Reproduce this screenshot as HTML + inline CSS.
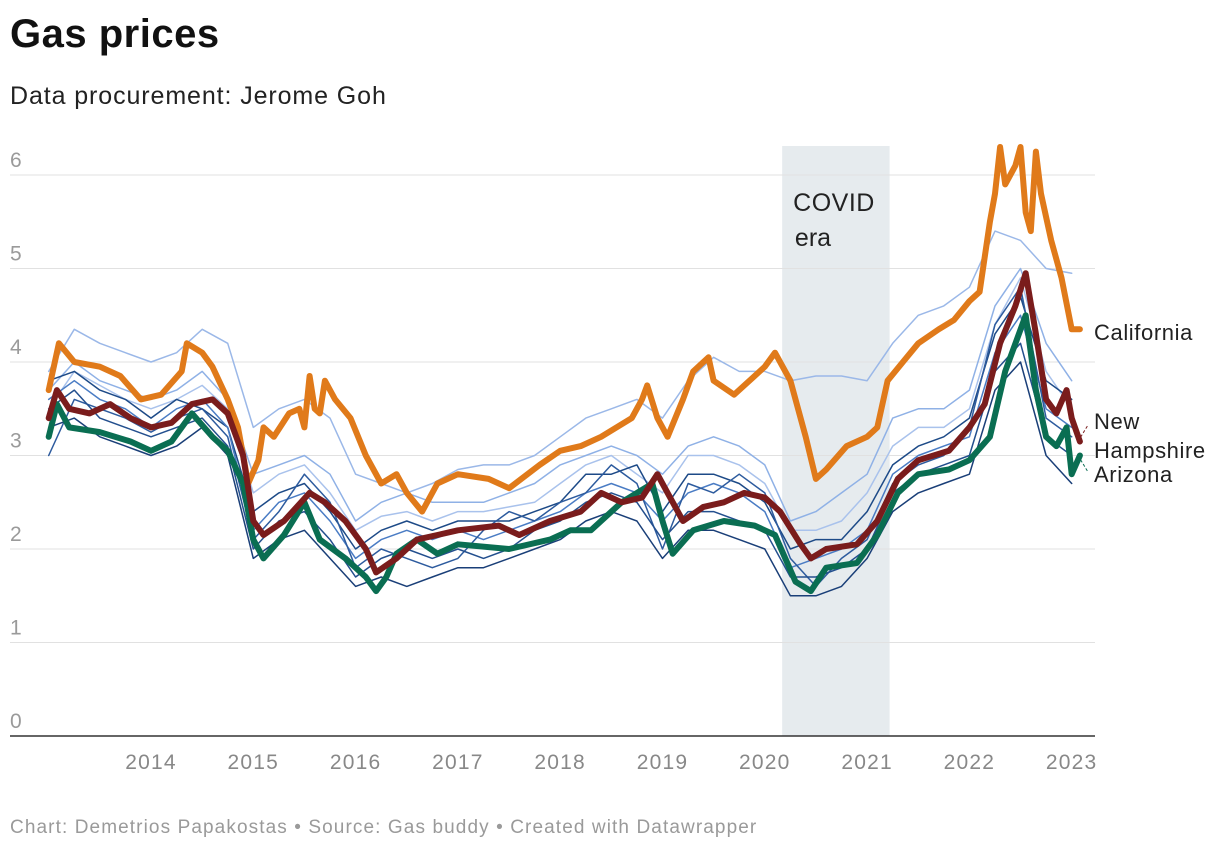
<!DOCTYPE html>
<html><head><meta charset="utf-8">
<style>
body{margin:0;background:#fff;font-family:"Liberation Sans",Arial,sans-serif;}
#wrap{position:relative;width:1220px;height:852px;overflow:hidden;}
.t{position:absolute;white-space:nowrap;}
</style></head>
<body>
<div id="wrap">
<div class="t" style="left:10px;top:12px;font-size:40px;font-weight:bold;color:#111;letter-spacing:0.5px;">Gas prices</div>
<div class="t" style="left:10px;top:82px;font-size:25px;color:#222;letter-spacing:0.9px;">Data procurement: Jerome Goh</div>
<svg id="chart" width="1220" height="852" style="position:absolute;left:0;top:0"></svg>
<div class="t" style="left:10px;top:817px;font-size:19px;color:#9a9a9a;letter-spacing:1.1px;">Chart: Demetrios Papakostas • Source: Gas buddy • Created with Datawrapper</div>
</div>
<script>
const yTicks=[0,1,2,3,4,5,6];
const xYears=[2014,2015,2016,2017,2018,2019,2020,2021,2022,2023];
const covidStart=2020.17, covidEnd=2021.22;
const caT=[2013.0,2013.1,2013.25,2013.5,2013.7,2013.9,2014.1,2014.3,2014.35,2014.5,2014.6,2014.75,2014.85,2014.95,2015.05,2015.1,2015.2,2015.35,2015.45,2015.5,2015.55,2015.6,2015.65,2015.7,2015.8,2015.95,2016.1,2016.25,2016.4,2016.5,2016.65,2016.8,2017.0,2017.3,2017.5,2017.8,2018.0,2018.2,2018.4,2018.7,2018.8,2018.85,2018.95,2019.05,2019.2,2019.3,2019.45,2019.5,2019.7,2019.85,2020.0,2020.1,2020.25,2020.4,2020.5,2020.6,2020.8,2021.0,2021.1,2021.2,2021.35,2021.5,2021.7,2021.85,2022.0,2022.1,2022.2,2022.25,2022.3,2022.35,2022.45,2022.5,2022.55,2022.6,2022.65,2022.7,2022.8,2022.9,2023.0,2023.08];
const caV=[3.7,4.2,4.0,3.95,3.85,3.6,3.65,3.9,4.2,4.1,3.95,3.6,3.3,2.7,2.95,3.3,3.2,3.45,3.5,3.3,3.85,3.5,3.45,3.8,3.6,3.4,3.0,2.7,2.8,2.6,2.4,2.7,2.8,2.75,2.65,2.9,3.05,3.1,3.2,3.4,3.6,3.75,3.4,3.2,3.6,3.9,4.05,3.8,3.65,3.8,3.95,4.1,3.8,3.2,2.75,2.85,3.1,3.2,3.3,3.8,4.0,4.2,4.35,4.45,4.65,4.75,5.5,5.8,6.3,5.9,6.1,6.3,5.6,5.4,6.25,5.8,5.3,4.9,4.35,4.35];
const nhT=[2013.0,2013.08,2013.2,2013.4,2013.6,2013.8,2014.0,2014.2,2014.4,2014.6,2014.75,2014.9,2015.0,2015.1,2015.3,2015.55,2015.7,2015.9,2016.1,2016.2,2016.4,2016.6,2016.8,2017.0,2017.4,2017.6,2017.9,2018.2,2018.4,2018.6,2018.8,2018.95,2019.05,2019.2,2019.4,2019.6,2019.8,2020.0,2020.15,2020.35,2020.45,2020.6,2020.9,2021.1,2021.3,2021.5,2021.8,2022.0,2022.15,2022.3,2022.45,2022.55,2022.65,2022.75,2022.85,2022.95,2023.0,2023.08];
const nhV=[3.4,3.7,3.5,3.45,3.55,3.4,3.3,3.35,3.55,3.6,3.45,3.0,2.3,2.15,2.3,2.6,2.5,2.3,2.0,1.75,1.9,2.1,2.15,2.2,2.25,2.15,2.3,2.4,2.6,2.5,2.55,2.8,2.6,2.3,2.45,2.5,2.6,2.55,2.4,2.05,1.9,2.0,2.05,2.3,2.75,2.95,3.05,3.3,3.55,4.2,4.6,4.95,4.3,3.6,3.45,3.7,3.4,3.15];
const azT=[2013.0,2013.08,2013.2,2013.5,2013.8,2014.0,2014.2,2014.4,2014.6,2014.75,2014.9,2015.0,2015.1,2015.3,2015.5,2015.65,2015.9,2016.1,2016.2,2016.3,2016.4,2016.6,2016.8,2017.0,2017.5,2017.9,2018.1,2018.3,2018.6,2018.9,2019.0,2019.1,2019.3,2019.6,2019.9,2020.1,2020.3,2020.45,2020.6,2020.9,2021.1,2021.3,2021.5,2021.8,2022.0,2022.2,2022.35,2022.55,2022.65,2022.75,2022.85,2022.95,2023.0,2023.08];
const azV=[3.2,3.55,3.3,3.25,3.15,3.05,3.15,3.45,3.2,3.05,2.7,2.1,1.9,2.15,2.5,2.1,1.9,1.7,1.55,1.7,1.95,2.1,1.95,2.05,2.0,2.1,2.2,2.2,2.5,2.7,2.3,1.95,2.2,2.3,2.25,2.15,1.65,1.55,1.8,1.85,2.15,2.6,2.8,2.85,2.95,3.2,3.9,4.5,3.7,3.2,3.1,3.3,2.8,3.0];
const bgStart=2013.0, bgStep=0.25;
const bg1=[3.9,4.35,4.2,4.1,4.0,4.1,4.35,4.2,3.3,3.5,3.6,3.4,2.8,2.7,2.6,2.7,2.85,2.9,2.9,3.0,3.2,3.4,3.5,3.6,3.4,3.8,4.05,3.9,3.9,3.8,3.85,3.85,3.8,4.2,4.5,4.6,4.8,5.4,5.3,5.0,4.95];
const bg2=[3.8,3.9,3.7,3.6,3.4,3.6,3.5,3.3,2.4,2.6,2.7,2.4,2.0,2.2,2.3,2.2,2.3,2.3,2.3,2.4,2.5,2.8,2.8,2.9,2.4,2.8,2.8,2.7,2.5,2.0,2.1,2.1,2.4,2.9,3.1,3.2,3.4,4.3,4.7,3.8,3.6];
const bg3=[3.5,3.7,3.4,3.3,3.2,3.3,3.4,3.1,2.0,2.3,2.4,2.1,1.7,1.9,2.0,1.9,2.0,1.9,2.0,2.2,2.3,2.5,2.6,2.5,2.1,2.4,2.4,2.3,2.2,1.7,1.7,1.8,2.0,2.6,2.8,2.9,3.0,3.9,4.2,3.2,3.0];
const bg4=[3.7,4.0,3.8,3.7,3.6,3.7,3.9,3.6,2.8,2.9,3.0,2.8,2.3,2.5,2.6,2.5,2.5,2.5,2.6,2.7,2.9,3.0,3.1,3.0,2.8,3.1,3.2,3.1,2.9,2.3,2.4,2.6,2.8,3.4,3.5,3.5,3.7,4.6,5.0,4.2,3.8];
const bg5=[3.3,3.4,3.2,3.1,3.0,3.1,3.3,3.0,1.9,2.1,2.2,1.9,1.6,1.7,1.6,1.7,1.8,1.8,1.9,2.0,2.1,2.3,2.4,2.3,1.9,2.2,2.2,2.1,2.0,1.5,1.5,1.6,1.9,2.4,2.6,2.7,2.8,3.7,4.0,3.0,2.7];
const bg6=[3.6,3.8,3.6,3.5,3.3,3.5,3.6,3.3,2.2,2.5,2.6,2.3,1.9,2.1,2.2,2.1,2.2,2.1,2.2,2.3,2.4,2.6,2.7,2.6,2.3,2.6,2.7,2.6,2.4,1.8,1.9,2.0,2.2,2.8,3.0,3.1,3.2,4.1,4.5,3.5,3.3];
const bg7=[3.0,3.6,3.5,3.4,3.25,3.4,3.5,3.2,2.1,2.4,2.8,2.5,1.8,2.0,1.9,1.8,1.9,2.2,2.4,2.3,2.5,2.6,2.9,2.7,2.0,2.7,2.6,2.8,2.6,1.9,1.6,1.9,2.1,2.7,2.9,3.0,3.3,4.4,4.8,3.4,3.2];
const bg8=[3.5,3.9,3.75,3.6,3.5,3.6,3.75,3.5,2.6,2.8,2.9,2.6,2.2,2.35,2.4,2.3,2.4,2.4,2.45,2.5,2.7,2.9,3.0,2.8,2.6,3.0,3.0,2.9,2.7,2.2,2.2,2.3,2.6,3.1,3.3,3.3,3.5,4.4,4.9,3.9,3.5];

const NS="http://www.w3.org/2000/svg";
const svg=document.getElementById('chart');
const X=t=>151+(t-2014)*102.3;
const Y=v=>736-v*93.5;
function mk(tag,attrs){const e=document.createElementNS(NS,tag);for(const k in attrs)e.setAttribute(k,attrs[k]);svg.appendChild(e);return e;}
let r=mk('rect',{x:X(covidStart),y:146,width:X(covidEnd)-X(covidStart),height:590,fill:'#e6ebee'});


yTicks.forEach(v=>{
  if(v>0){const g=mk('line',{x1:10,x2:1095,y1:Y(v),y2:Y(v),stroke:'#e1e1e1','stroke-width':1});
  
  }
  const tx=mk('text',{x:10,y:Y(v)-8,'font-size':21,fill:'#9a9a9a','letter-spacing':1});tx.textContent=v;
  
  
});
xYears.forEach(yr=>{
  const tx=mk('text',{x:X(yr),y:769,'font-size':21,fill:'#888','text-anchor':'middle','letter-spacing':1.2});tx.textContent=yr;
  
  
});
let ct=mk('text',{x:834,y:211,'font-size':25,fill:'#222','text-anchor':'middle','letter-spacing':0.5});ct.textContent='COVID';


let ct2=mk('text',{x:813,y:246,'font-size':25,fill:'#222','text-anchor':'middle'});ct2.textContent='era';


function line(ts,vs,color,w,name){
  const d=ts.map((t,i)=>(i?'L':'M')+X(t).toFixed(1)+','+Y(vs[i]).toFixed(1)).join('');
  const p=mk('path',{d:d,fill:'none',stroke:color,'stroke-width':w,'stroke-linejoin':'round','stroke-linecap':'round'});
  
  
}
const bgs=[[bg1,'#9bb8e8'],[bg4,'#8fb1e6'],[bg8,'#a9c2ec'],[bg2,'#1d4a87'],[bg6,'#4a7cc4'],[bg7,'#2d5b9e'],[bg3,'#234f8e'],[bg5,'#1a3f78']];
bgs.forEach((b,i)=>{const ts=b[0].map((_,k)=>bgStart+k*bgStep);line(ts,b[0],b[1],1.5,'state-line-'+(i+1));});
line(caT,caV,'#e07a1a',6,'california-line');
line(azT,azV,'#0a6e52',6,'arizona-line');
line(nhT,nhV,'#7a1c1c',6,'new-hampshire-line');
let ax=mk('line',{x1:10,x2:1095,y1:736,y2:736,stroke:'#333','stroke-width':1.5});


let d1=mk('line',{x1:1078,y1:Y(3.15),x2:1088,y2:425,stroke:'#7a1c1c','stroke-dasharray':'3,2'});


let d2=mk('line',{x1:1078,y1:Y(3.0),x2:1088,y2:472,stroke:'#0a6e52','stroke-dasharray':'3,2'});


[['California',340,'california-label'],['New',429,'nh-label-1'],['Hampshire',458,'nh-label-2'],['Arizona',482,'arizona-label']].forEach(a=>{
  const tx=mk('text',{x:1094,y:a[1],'font-size':22,fill:'#222','letter-spacing':0.6});tx.textContent=a[0];
  
  
});
</script>
</body></html>
